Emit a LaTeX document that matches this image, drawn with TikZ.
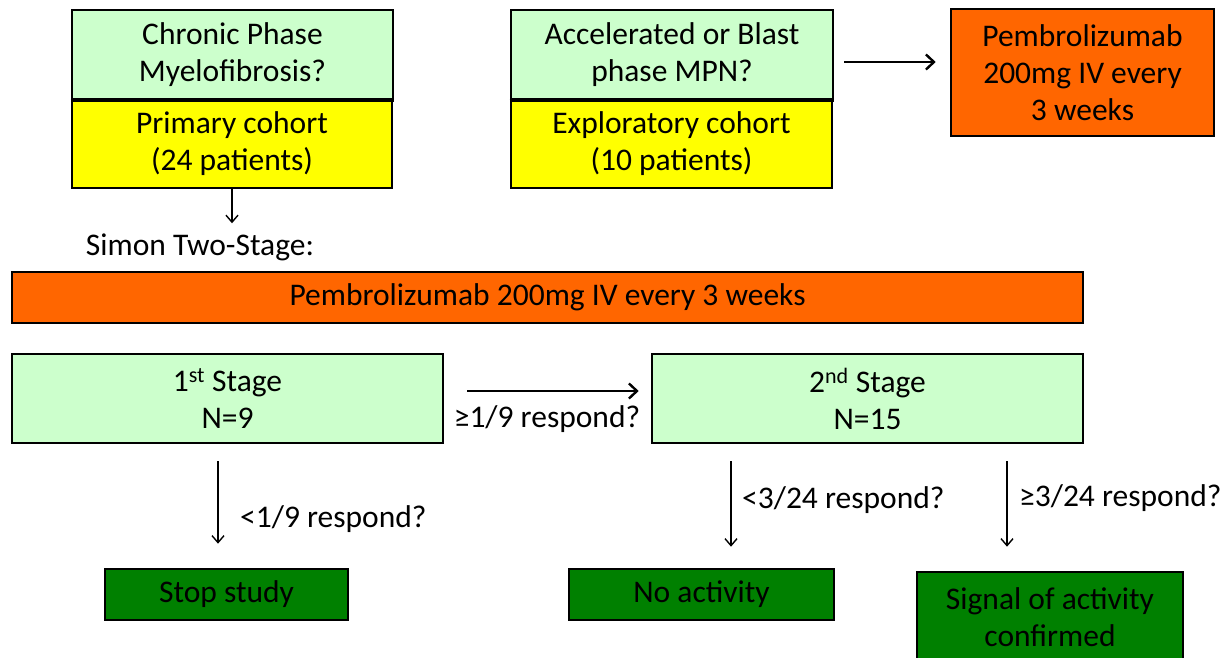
\documentclass[tikz,border=0pt]{standalone}
\usepackage{fontspec}
\setmainfont{Carlito}
\usetikzlibrary{arrows.meta}
\definecolor{lgreen}{HTML}{CCFFCC}
\definecolor{yel}{HTML}{FFFF00}
\definecolor{orng}{HTML}{FF6600}
\definecolor{dgreen}{HTML}{008000}
\tikzset{
  box/.style={draw=black, line width=2.6pt, inner sep=0pt, align=center, font=\fontsize{31.5}{37}\selectfont},
  gbox/.style={box, fill=lgreen},
  ybox/.style={box, fill=yel, line width=1.6pt},
  obox/.style={box, fill=orng},
  dbox/.style={box, fill=dgreen},
  lbl/.style={font=\fontsize{31.5}{37}\selectfont, inner sep=0pt},
  arr/.style={-{Straight Barb[length=7pt,width=12pt]}, line width=1.4pt},
  arrb/.style={-{Straight Barb[length=8pt,width=15pt,line width=2.4pt]}, line width=2.8pt}
}
\begin{document}
\begin{tikzpicture}[x=1pt,y=-1pt]
\useasboundingbox (0,0) rectangle (1227,658);
% top left
\node[gbox, minimum width=321pt, minimum height=89pt] (chron) at (232.5,54.5) {Chronic Phase\\Myelofibrosis?};
\node[ybox, minimum width=320pt, minimum height=89pt] (prim) at (232,143.5) {Primary cohort\\(24 patients)};
\draw[line width=2.6pt] (chron.south west) -- (chron.south east);
% top middle
\node[gbox, minimum width=322pt, minimum height=89pt] (accg) at (672,54.5) {Accelerated or Blast\\phase MPN?};
\node[ybox, minimum width=321pt, minimum height=89pt] (expl) at (671.5,143.5) {Exploratory cohort\\(10 patients)};
\draw[line width=2.6pt] (accg.south west) -- (accg.south east);
% top right
\node[obox, minimum width=263pt, minimum height=127pt] (pembtop) at (1082.5,72.5) {Pembrolizumab\\200mg IV every\\3 weeks};
\draw[arrb, shorten <=10pt, shorten >=14pt] ([yshift=-7.5pt]accg.east) -- ([yshift=10.5pt]pembtop.west);
% simon
\node[lbl] (simon) at (200,247) {Simon Two-Stage:};
\draw[arr, shorten >=10pt] (prim.south) -- (prim.south |- simon.north);
% wide bar
\node[obox, line width=2pt, minimum width=1071pt, minimum height=51pt] (bar) at (547.5,297.5) {Pembrolizumab 200mg IV every 3 weeks};
% stages
\node[gbox, minimum width=431pt, minimum height=89pt] (st1) at (227.5,398.5) {1\textsuperscript{st} Stage\\N=9};
\node[gbox, minimum width=431pt, minimum height=89pt] (st2) at (867.5,398.5) {2\textsuperscript{nd} Stage\\N=15};
\draw[arrb, line width=2.6pt, shorten <=23pt, shorten >=12pt] ([yshift=7.5pt]st1.east) -- ([yshift=7.5pt]st2.west);
\node[lbl] (l1) at (547,419) {≥1/9 respond?};
% results
\node[dbox, minimum width=243pt, minimum height=51pt] (stop) at (226.5,594.5) {Stop study};
\node[dbox, minimum width=265pt, minimum height=51pt] (noact) at (701.5,594.5) {No activity};
\node[dbox, minimum width=266pt, minimum height=90pt] (sig) at (1050,617) {Signal of activity\\confirmed};
\draw[arr, shorten <=17pt, shorten >=24pt] ([xshift=-9.5pt]st1.south) -- ([xshift=-8.5pt]stop.north);
\node[lbl, anchor=west] (l2) at (240,519) {<1/9 respond?};
\draw[arr, shorten <=17pt, shorten >=21pt] (st2.south -| 731,0) -- (noact.north -| 731,0);
\node[lbl, anchor=west] (l3) at (742,500) {<3/24 respond?};
\draw[arr, shorten <=17pt, shorten >=24pt] (st2.south -| 1007,0) -- (sig.north -| 1007,0);
\node[lbl, anchor=west] (l4) at (1019,498) {≥3/24 respond?};
\end{tikzpicture}
\end{document}
